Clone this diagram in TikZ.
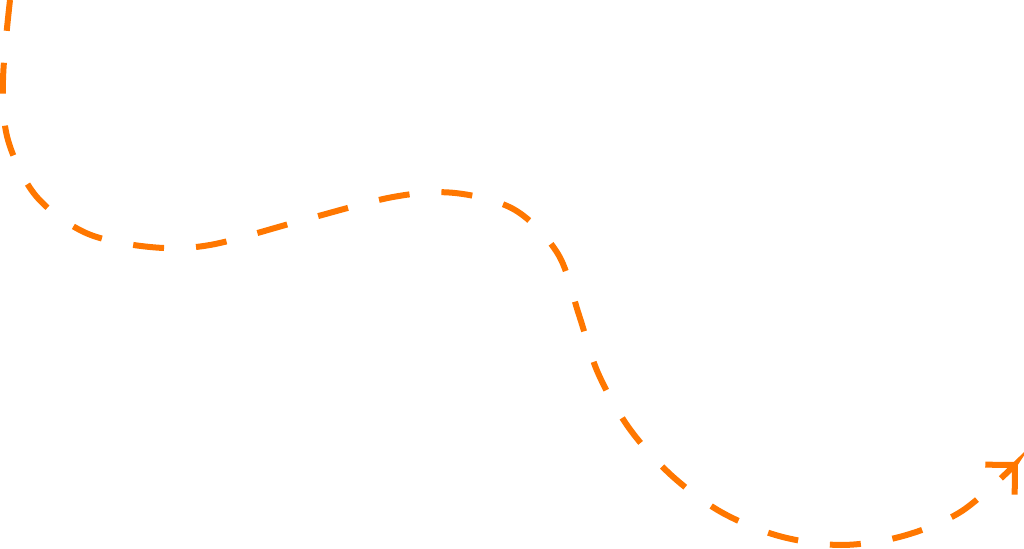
\documentclass[tikz,border=0pt]{standalone}
\usetikzlibrary{arrows.meta}
\definecolor{routeorange}{RGB}{255,119,0}

\begin{document}
\begin{tikzpicture}[x=0.01cm,y=-0.01cm,
    route/.style={routeorange, line width=0.06cm, dash pattern=on 0.31cm off 0.32cm,
      -{Straight Barb[length=2.1mm,width=4.2mm,sharp]}}]
      \useasboundingbox (0,0) rectangle (1024,549) ;
      % dashed winding route
      \draw[route] plot[smooth, tension=0.55] coordinates {(10,0) (3,80) (8,140)
        (36,196) (86,233) (150,247) (210,245) (300,221) (393,197) (455,193)
        (515,210) (558,254) (579,315) (598,373) (629,428) (671,475) (721,512)
        (779,536) (841,545) (903,536) (962,511) (1018,462)} ;
    \end{tikzpicture}
\end{document}
